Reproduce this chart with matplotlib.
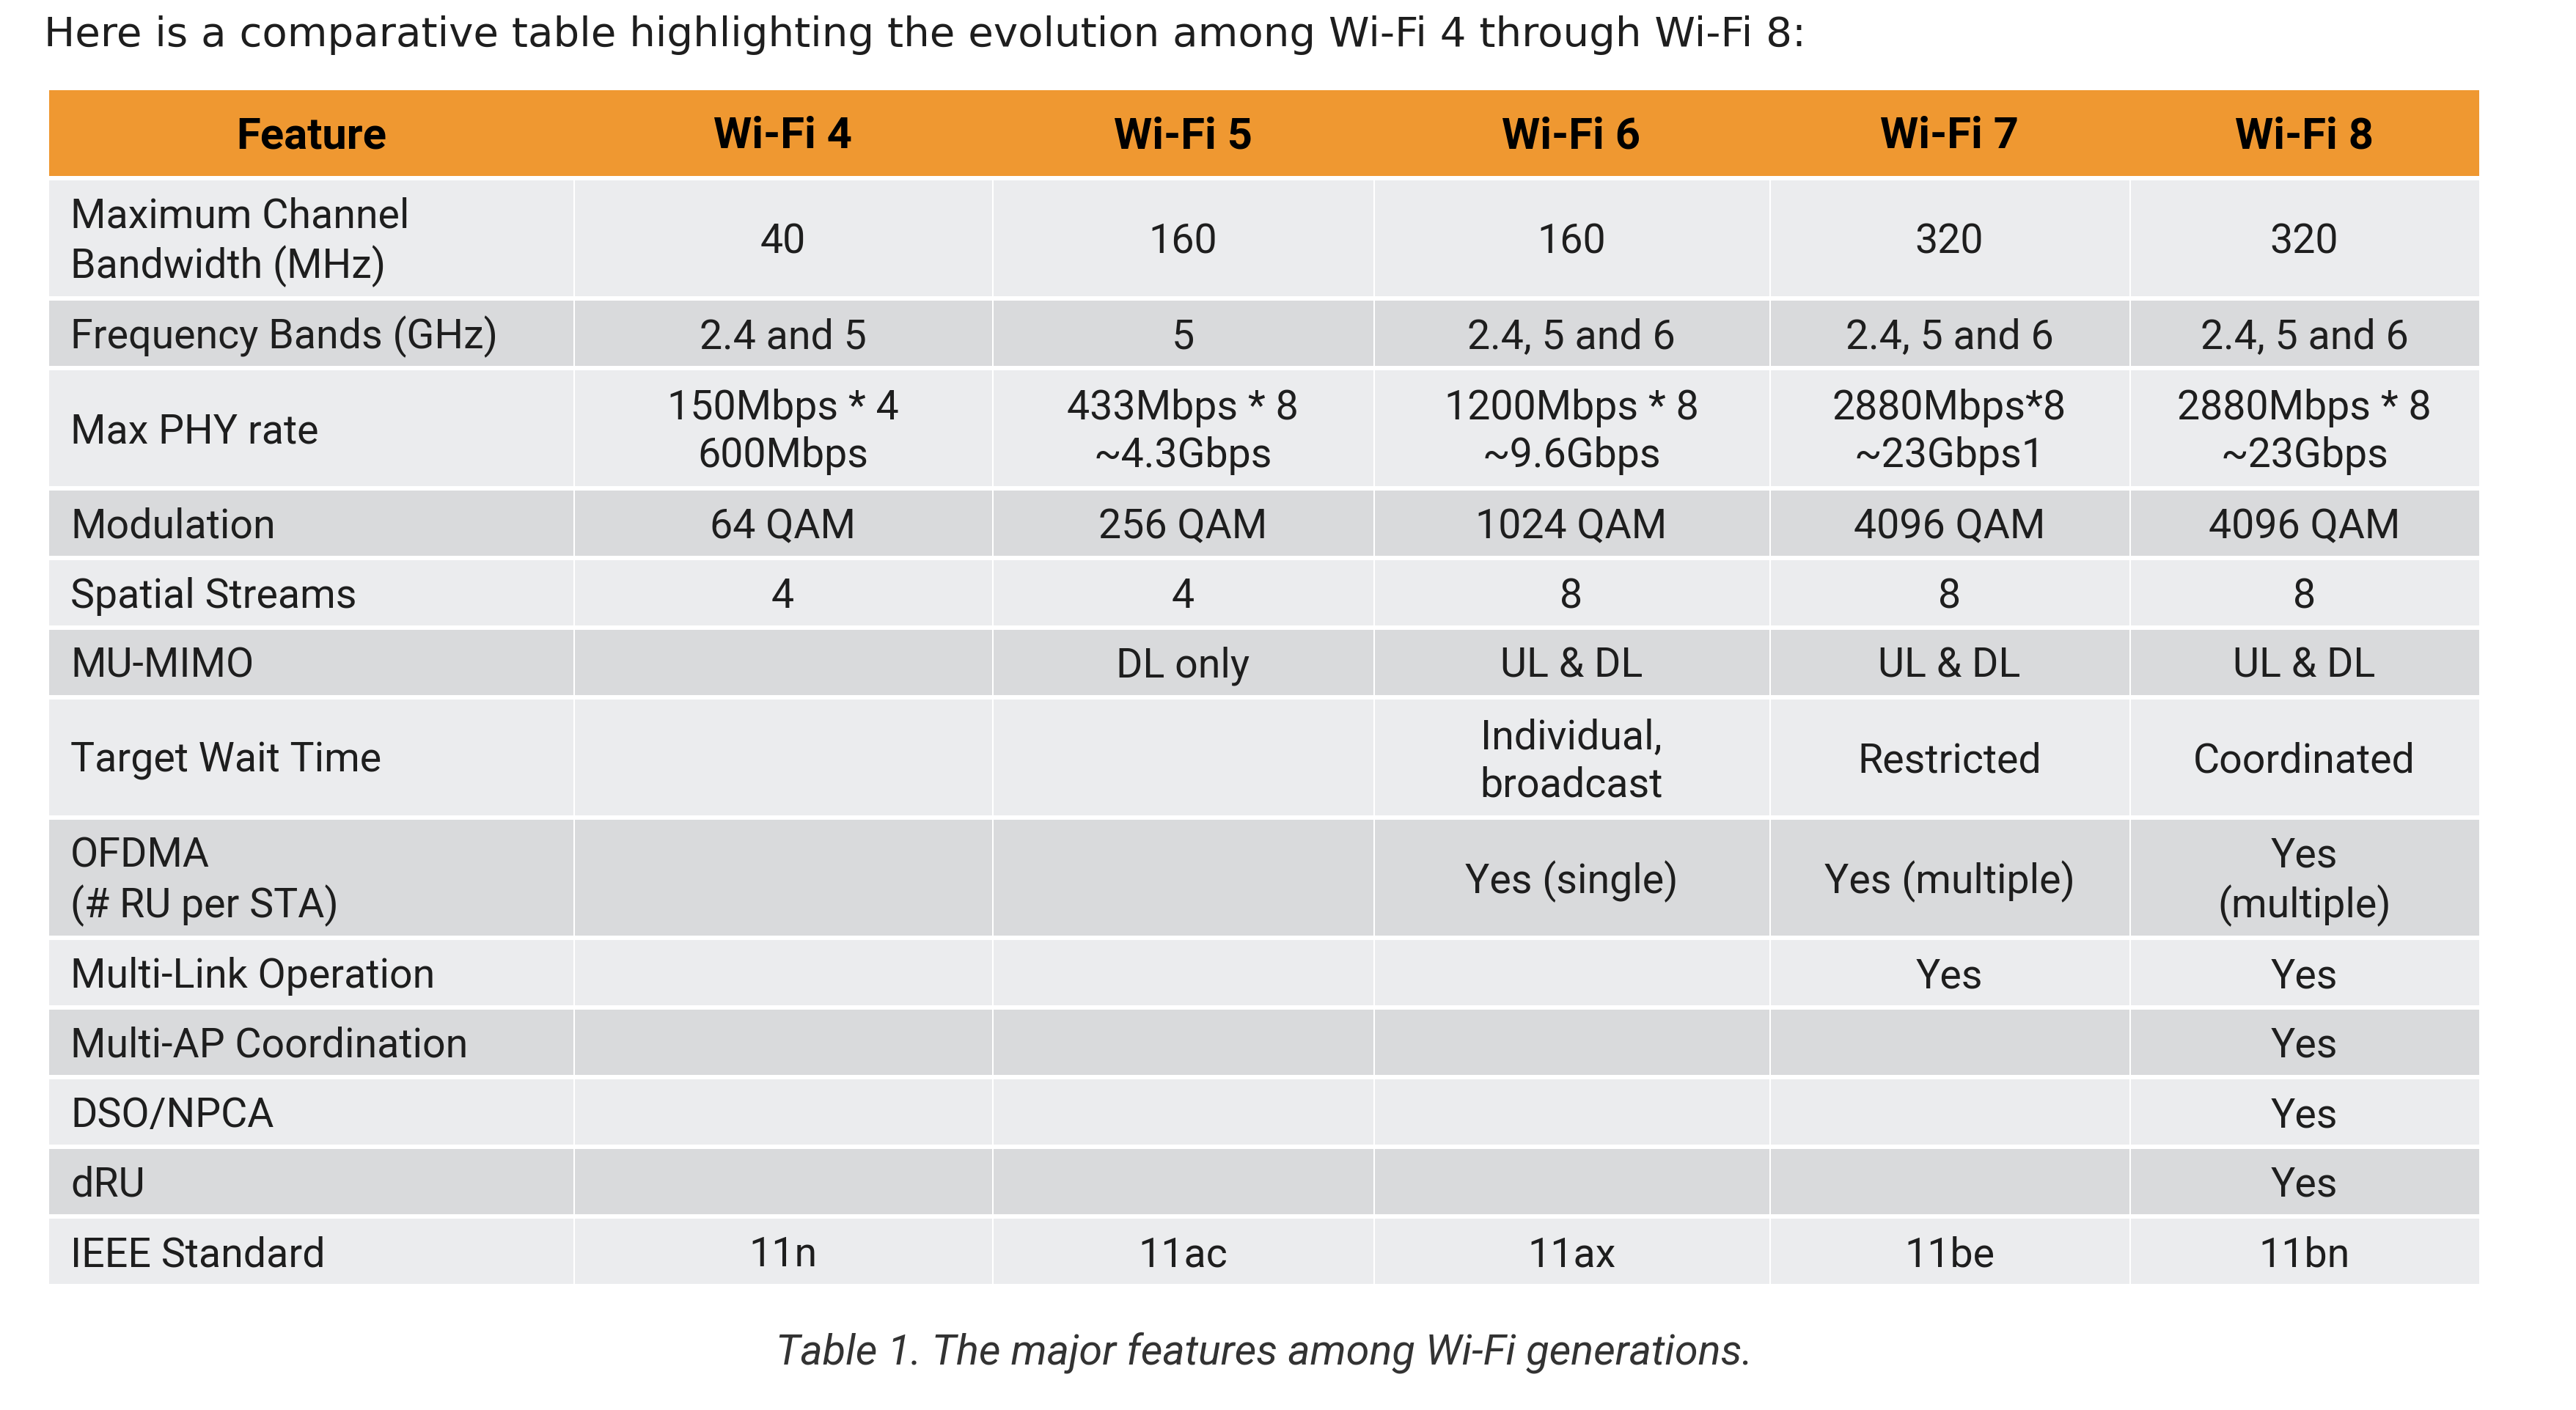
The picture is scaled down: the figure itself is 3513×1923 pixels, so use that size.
# Wi-Fi 4 to Wi-Fi 8 comparison table
import matplotlib.pyplot as plt
from matplotlib.patches import Rectangle

# Table content
header = ["Feature", "Wi-Fi 4", "Wi-Fi 5", "Wi-Fi 6", "Wi-Fi 7", "Wi-Fi 8"]
features = ["Maximum Channel\nBandwidth (MHz)", "Frequency Bands (GHz)", "Max PHY rate",
            "Modulation", "Spatial Streams", "MU-MIMO", "Target Wait Time",
            "OFDMA\n(# RU per STA)", "Multi-Link Operation", "Multi-AP Coordination",
            "DSO/NPCA", "dRU", "IEEE Standard"]
wifi4 = ["40", "2.4 and 5", "150Mbps * 4\n600Mbps", "64 QAM", "4", "", "", "",
         "", "", "", "", "11n"]
wifi5 = ["160", "5", "433Mbps * 8\n~4.3Gbps", "256 QAM", "4", "DL only", "", "",
         "", "", "", "", "11ac"]
wifi6 = ["160", "2.4, 5 and 6", "1200Mbps * 8\n~9.6Gbps", "1024 QAM", "8", "UL & DL",
         "Individual,\nbroadcast", "Yes (single)", "", "", "", "", "11ax"]
wifi7 = ["320", "2.4, 5 and 6", "2880Mbps*8\n~23Gbps1", "4096 QAM", "8", "UL & DL",
         "Restricted", "Yes (multiple)", "Yes", "", "", "", "11be"]
wifi8 = ["320", "2.4, 5 and 6", "2880Mbps * 8\n~23Gbps", "4096 QAM", "8", "UL & DL",
         "Coordinated", "Yes\n(multiple)", "Yes", "Yes", "Yes", "Yes", "11bn"]

intro = "Here is a comparative table highlighting the evolution among Wi-Fi 4 through Wi-Fi 8:"
caption = "Table 1. The major features among Wi-Fi generations."

# Layout (pixels)
W, H = 3513, 1923
left, top = 67, 123
col_widths = [715, 571, 520, 540, 491, 477]
header_h = 117
single_h, double_h = 89, 158
gap = 6
dy = 5  # text sits a little below the cell centre

orange = "#EF9831"
light = "#EBECEE"
dark = "#D9DADC"
txt = "#1E1E1E"
fs = 40

plt.rcParams['font.family'] = ['Roboto', 'DejaVu Sans']

fig = plt.figure(figsize=(W / 100, H / 100), dpi=100)
ax = fig.add_axes([0, 0, 1, 1])
ax.set_xlim(0, W)
ax.set_ylim(H, 0)
ax.axis("off")

col_x = [left]
for w in col_widths:
    col_x.append(col_x[-1] + w)
table_w = col_x[-1] - left

ax.text(60, 48, intro, fontsize=40.5, family=["DejaVu Sans"], color=txt,
        va="center", ha="left")

# header
ax.add_patch(Rectangle((left, top), table_w, header_h, color=orange, lw=0))
for j, h in enumerate(header):
    ax.text((col_x[j] + col_x[j + 1]) / 2, top + header_h / 2 + dy, h, fontsize=43,
            fontweight="bold", color="black", ha="center", va="center")

columns = [features, wifi4, wifi5, wifi6, wifi7, wifi8]
y = top + header_h + gap
for i in range(len(features)):
    cells = [c[i] for c in columns]
    nlines = max(s.count("\n") + 1 for s in cells)
    rh = single_h if nlines == 1 else double_h
    bg = light if i % 2 == 0 else dark
    for j, s in enumerate(cells):
        ax.add_patch(Rectangle((col_x[j] + (1.5 if j > 0 else 0), y),
                               col_widths[j] - (1.5 if j > 0 else 0), rh, color=bg, lw=0))
        if j == 0:
            ax.text(col_x[0] + 29, y + rh / 2 + dy, s, fontsize=fs, color=txt,
                    ha="left", va="center", linespacing=1.3)
        else:
            ax.text((col_x[j] + col_x[j + 1]) / 2, y + rh / 2 + dy, s, fontsize=fs,
                    color=txt, ha="center", va="center", linespacing=1.3,
                    multialignment="center")
    y += rh + gap

ax.text(left + table_w / 2, 1845, caption, fontsize=41.5, style="italic", color="#333333",
        ha="center", va="center")

fig.savefig("out.png", dpi=100, facecolor="white")
